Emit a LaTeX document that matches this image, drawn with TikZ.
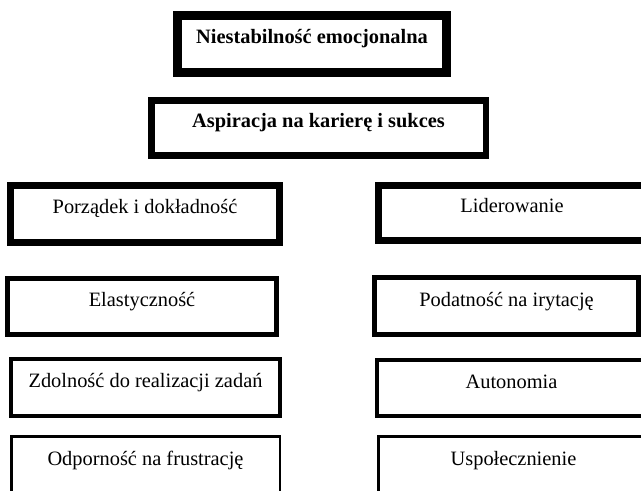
\documentclass[tikz,border=0pt]{standalone}
\usepackage{fontspec}
\setmainfont{Liberation Serif}
\usetikzlibrary{positioning}

\begin{document}
\begin{tikzpicture}[x=0.75pt,y=-0.75pt]
\tikzstyle{every node}=[font=\fontsize{15.3}{18}\selectfont]
\tikzstyle{pole}=[draw, rectangle, inner sep=0pt, text height=1.5ex, text depth=1.5ex, minimum width=201.5pt, minimum height=42.5pt]
\useasboundingbox (0,0) rectangle (641,491);
\clip (0,0) rectangle (641,491);

% gorne pola
\node[pole, line width=7.1pt, minimum height=42.4pt] (niest) at (312,44) {\textbf{Niestabilność emocjonalna}};
\node[pole, line width=4.9pt, minimum width=250.9pt, minimum height=41.6pt] (aspir) at (318.5,128) {\textbf{Aspiracja na karierę i sukces}};

% lewa kolumna
\node[pole, line width=4.9pt, minimum width=202.1pt, minimum height=43.1pt] (porz) at (145,214) {Porządek i dokładność};
\node[pole, line width=3.75pt, minimum height=42pt] (elast) at (142,306.5) {Elastyczność};
\node[pole, line width=3pt, minimum height=42.75pt] (zdoln) at (145.5,387.5) {Zdolność do realizacji zadań};
\node[pole, line width=2pt, minimum height=42.75pt] (odpor) at (145.5,465) {Odporność na frustrację};

% prawa kolumna
\node[pole, line width=4.9pt, minimum width=200.6pt, minimum height=41.6pt] (lider) at (512,213) {Liderowanie};
\node[pole, line width=3.75pt, minimum width=198pt, minimum height=42.75pt] (podat) at (506.5,306) {Podatność na irytację};
\node[pole, line width=3pt, minimum height=42pt] (auton) at (511.5,388) {Autonomia};
\node[pole, line width=2pt, minimum width=202.5pt, minimum height=42.75pt] (uspol) at (513.5,465) {Uspołecznienie};
\end{tikzpicture}
\end{document}
